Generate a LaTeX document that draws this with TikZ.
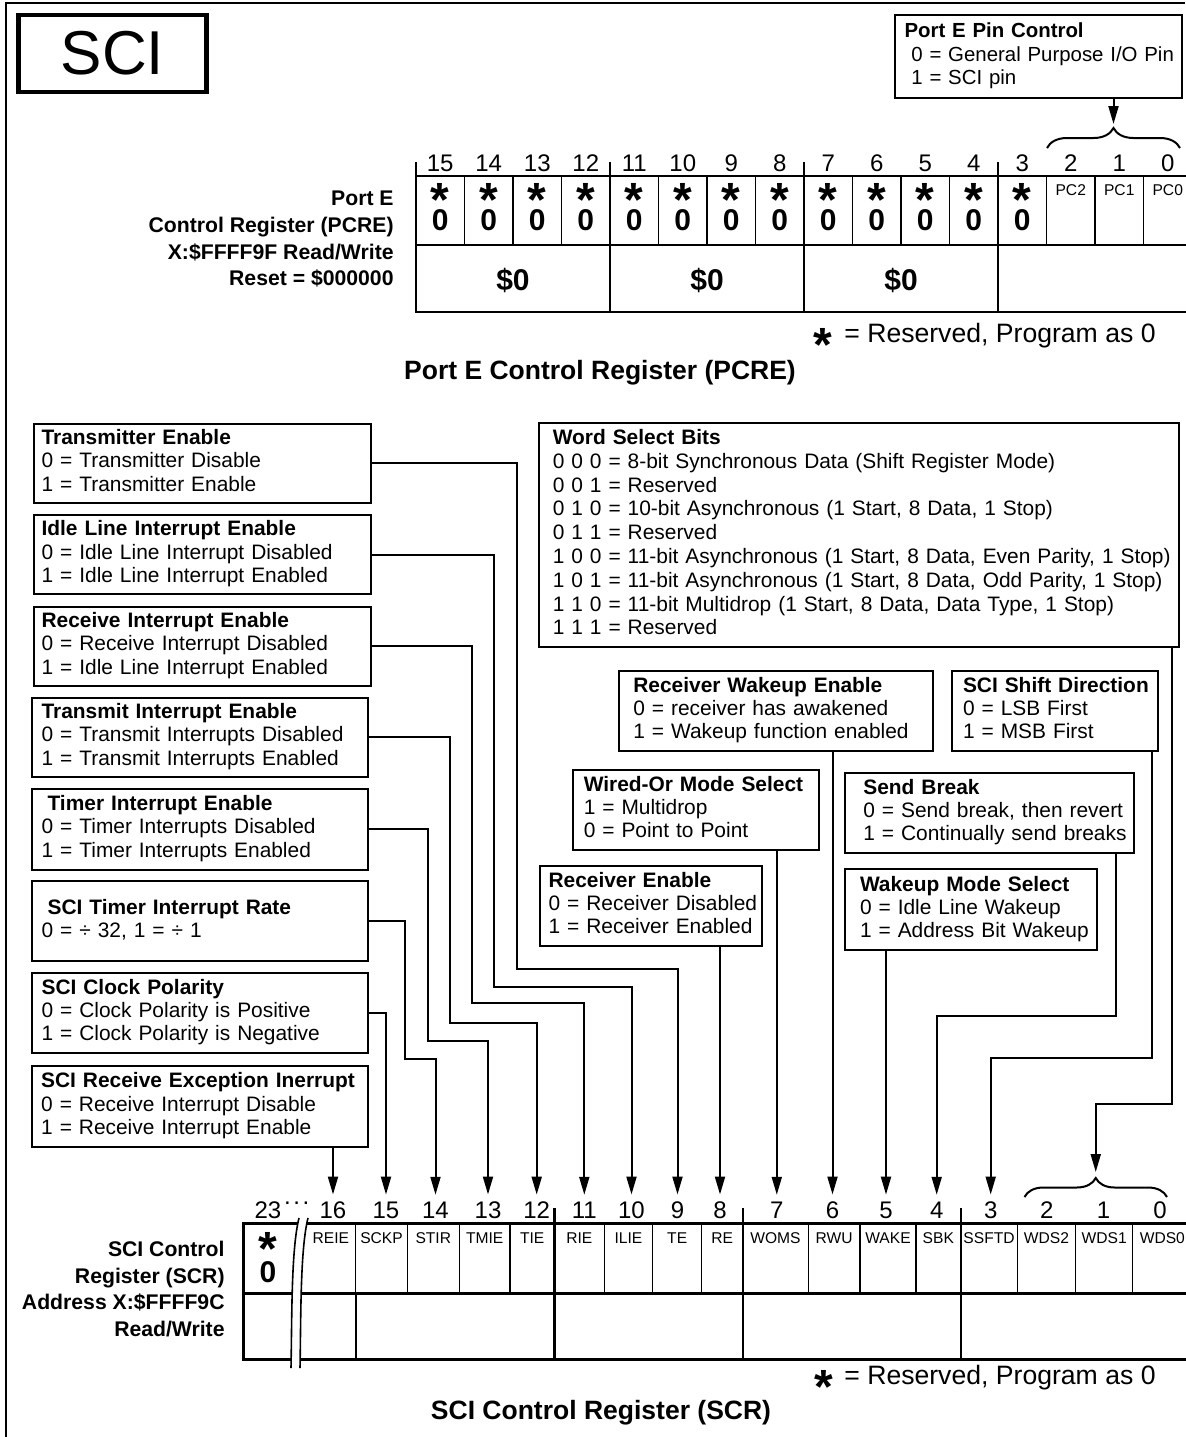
\documentclass[tikz,border=0pt]{standalone}
\usepackage{fontspec}
\setmainfont{Liberation Sans}
\usetikzlibrary{arrows.meta,decorations.pathreplacing}

\newcommand{\bodyfont}{\fontsize{10.45}{11.6}\selectfont}
\newcommand{\labfont}{\fontsize{10.6}{13.4}\selectfont\bfseries}
\newcommand{\numfont}{\fontsize{12}{14}\selectfont}
\newcommand{\zerofont}{\fontsize{15}{17}\selectfont\bfseries}
\newcommand{\starfont}{\fontsize{24}{24}\selectfont\bfseries}
\newcommand{\cellfont}{\fontsize{7.8}{9}\selectfont}
\newcommand{\notefont}{\fontsize{13.3}{15}\selectfont}
\newcommand{\titlefont}{\fontsize{13.25}{15}\selectfont\bfseries}
\newcommand{\desc}[2]{\begin{tabular}{@{\hspace{#1}}l@{}}#2\end{tabular}}

\tikzset{
  descbox/.style={draw, line width=1pt, anchor=north west, inner sep=0pt, align=left, font=\bodyfont},
  conn/.style={line width=1pt, -{Triangle[length=9pt,width=5pt]}},
  bitnum/.style={font=\numfont, inner sep=0pt, outer ysep=3.5pt},
  celllab/.style={font=\cellfont, inner sep=0pt},
  zero/.style={font=\zerofont, inner sep=0pt},
  starmark/.style={font=\starfont, inner sep=0pt, anchor=north},
  regline/.style={line width=1.2pt},
  cellline/.style={line width=0.7pt},
  curly/.style={decorate, decoration={brace, amplitude=#1}, line width=1pt},
}

\begin{document}
\begin{tikzpicture}[x=0.5pt, y=-0.5pt]
\useasboundingbox (0,0) rectangle (1185,1437);
\fill[white] (0,0) rectangle (1185,1437);
\draw[line width=1pt] (1185,2.7) -- (5.7,2.7) -- (5.7,1437);

\node[draw, line width=2.2pt, minimum width=94pt, minimum height=38.5pt, inner sep=0pt,
      font=\fontsize{31}{31}\selectfont] (sci) at (112.5,53.5) {SCI};

% Port E control register
\node[descbox, text width=143.7pt, minimum height=41.5pt, font=\fontsize{10.2}{11.8}\selectfont] (pin) at (893.6,14)
  {\desc{5pt}{\textbf{Port E Pin Control}\\\ 0 = General Purpose I/O Pin\\\ 1 = SCI pin}};
\coordinate (pctip) at (1113.5,124);
\draw[conn] (pin.south -| pctip) -- (pctip);
\draw[curly=10pt] (1047,148) -- (1180,148);

\foreach \i in {0,...,15}
  \draw[cellline] ({416+\i*48.5},176) rectangle ({416+(\i+1)*48.5},245);
\draw[regline] (416,176) rectangle (1192,312);
\draw[regline] (416,245) -- (1192,245);
\draw[regline] (416,162) -- (416,176);
\foreach \x in {610,804,998}
  \draw[regline] (\x,162) -- (\x,312);

\foreach \b in {15,...,0}
  \node[bitnum] (p\b) at ({416+(15.5-\b)*48.5},163) {\b};
\foreach \b in {15,...,3} {
  \node[starmark] (ps\b) at ({416+(15.5-\b)*48.5},183.3) {*};
  \node[zero] (pz\b) at ({416+(15.5-\b)*48.5},220) {0};
}
\foreach \b in {2,1,0}
  \node[celllab] (pc\b) at ({416+(15.5-\b)*48.5},190) {PC\b};
\foreach \g/\x in {a/513,b/707,c/901}
  \node[zero] (pd\g) at (\x,280) {\$0};

\node[font=\labfont, align=right, anchor=north east, inner sep=0pt] (pcrelab) at (394,190.5)
  {Port E\\Control Register (PCRE)\\X:\$FFFF9F Read/Write\\Reset = \$000000};
\node[starmark] (pcstar) at (823,328.3) {*};
\node[font=\notefont, anchor=base west, inner sep=0pt] (pcnote) at (844,342) {= Reserved, Program as 0};
\node[font=\titlefont, anchor=base] (pcretitle) at (600,379.5) {Port E Control Register (PCRE)};

% bit descriptions, left column
\node[descbox, text width=168.05pt, minimum height=39.5pt] (te) at (33.4,422.7)
  {\desc{3.6pt}{\textbf{Transmitter Enable}\\0 = Transmitter Disable\\1 = Transmitter Enable}};
\node[descbox, text width=168.05pt, minimum height=39.5pt] (ilie) at (33.4,514)
  {\desc{3.6pt}{\textbf{Idle Line Interrupt Enable}\\0 = Idle Line Interrupt Disabled\\1 = Idle Line Interrupt Enabled}};
\node[descbox, text width=168.05pt, minimum height=39.6pt] (rie) at (33.4,605.7)
  {\desc{3.6pt}{\textbf{Receive Interrupt Enable}\\0 = Receive Interrupt Disabled\\1 = Idle Line Interrupt Enabled}};
\node[descbox, text width=167.85pt, minimum height=39.6pt] (tie) at (31,696.7)
  {\desc{4.8pt}{\textbf{Transmit Interrupt Enable}\\0 = Transmit Interrupts Disabled\\1 = Transmit Interrupts Enabled}};
\node[descbox, text width=167.85pt, minimum height=40.3pt] (tmie) at (31,788)
  {\desc{4.8pt}{\hspace{3pt}\textbf{Timer Interrupt Enable}\\0 = Timer Interrupts Disabled\\1 = Timer Interrupts Enabled}};
\node[descbox, text width=167.85pt, minimum height=40pt] (stir) at (31,880)
  {\desc{4.8pt}{\hspace{3pt}\textbf{SCI Timer Interrupt Rate}\\0 = ÷ 32, 1 = ÷ 1\\ }};
\node[descbox, text width=167.85pt, minimum height=40pt] (sckp) at (31,971.7)
  {\desc{4.8pt}{\textbf{SCI Clock Polarity}\\0 = Clock Polarity is Positive\\1 = Clock Polarity is Negative}};
\node[descbox, text width=168pt, minimum height=40.5pt] (reie) at (30.6,1065)
  {\desc{4.8pt}{\textbf{SCI Receive Exception Inerrupt}\\0 = Receive Interrupt Disable\\1 = Receive Interrupt Enable}};

% bit descriptions, right side
\node[descbox, text width=320.1pt, minimum height=112.15pt, font=\fontsize{10.45}{11.9}\selectfont] (wsb) at (537.8,421.7)
  {\desc{7pt}{\textbf{Word Select Bits}\\
   0 0 0 = 8-bit Synchronous Data (Shift Register Mode)\\
   0 0 1 = Reserved\\
   0 1 0 = 10-bit Asynchronous (1 Start, 8 Data, 1 Stop)\\
   0 1 1 = Reserved\\
   1 0 0 = 11-bit Asynchronous (1 Start, 8 Data, Even Parity, 1 Stop)\\
   1 0 1 = 11-bit Asynchronous (1 Start, 8 Data, Odd Parity, 1 Stop)\\
   1 1 0 = 11-bit Multidrop (1 Start, 8 Data, Data Type, 1 Stop)\\
   1 1 1 = Reserved}};
\node[descbox, text width=156.9pt, minimum height=40pt] (rwe) at (618.4,670)
  {\desc{7pt}{\textbf{Receiver Wakeup Enable}\\0 = receiver has awakened\\1 = Wakeup function enabled}};
\node[descbox, text width=102.85pt, minimum height=40pt] (ssd) at (951.3,670)
  {\desc{5.35pt}{\textbf{SCI Shift Direction}\\0 = LSB First\\1 = MSB First}};
\node[descbox, text width=123pt, minimum height=40pt] (woms) at (572,769)
  {\desc{5.4pt}{\textbf{Wired-Or Mode Select}\\1 = Multidrop\\0 = Point to Point}};
\node[descbox, text width=144.2pt, minimum height=40pt] (sb) at (844.4,771.7)
  {\desc{9pt}{\textbf{Send Break}\\0 = Send break, then revert\\1 = Continually send breaks}};
\node[descbox, text width=111pt, minimum height=40pt] (re) at (539,865)
  {\desc{4.3pt}{\textbf{Receiver Enable}\\0 = Receiver Disabled\\1 = Receiver Enabled}};
\node[descbox, text width=125.55pt, minimum height=40.35pt] (wms) at (844.4,868.3)
  {\desc{7.3pt}{\textbf{Wakeup Mode Select}\\0 = Idle Line Wakeup\\1 = Address Bit Wakeup}};

% SCI control register
\draw[regline] (243.3,1223.3) rectangle (1192,1359.5);
\draw[regline] (243.3,1293.3) -- (1192,1293.3);
\draw[regline] (355.7,1293.3) -- (355.7,1359.5);
\foreach \x in {554.3,742.7,960.7}
  \draw[regline] (\x,1208) -- (\x,1359.5);
\foreach \l/\r/\lab in {306/355.7/REIE, 355.7/407.3/SCKP, 407.3/459.3/STIR, 459.3/510/TMIE,
    510/554.3/TIE, 554.3/604.3/RIE, 604.3/652.7/ILIE, 652.7/701.7/TE, 701.7/742.7/RE,
    742.7/808.3/WOMS, 808.3/860/RWU, 860/916/WAKE, 916/960.7/SBK, 960.7/1017.3/SSFTD,
    1017.3/1075.7/WDS2, 1075.7/1132.7/WDS1, 1132.7/1192/WDS0} {
  \draw[cellline] (\r,1223.3) -- (\r,1293.3);
  \node[celllab] (c\lab) at ({(\l+\r)/2},1238.3) {\lab};
}
% break in the register
\fill[white] (299,1218) .. controls (291,1250) and (292,1320) .. (291,1368)
  -- (300,1368) .. controls (301,1320) and (300,1250) .. (308,1218) -- cycle;
\draw[line width=0.8pt] (299,1218) .. controls (291,1250) and (292,1320) .. (291,1368);
\draw[line width=0.8pt] (308,1218) .. controls (300,1250) and (301,1320) .. (300,1368);

\node[starmark] (ss23) at (268,1231.7) {*};
\node[zero] (sz23) at (268,1271.7) {0};

\node[bitnum] (n23) at (268,1210) {23};
\node[font=\numfont, inner sep=0pt, anchor=base] (ndots) at (296.7,1204.3) {.\kern1.3pt.\kern1.3pt.};
\node[bitnum] (n16) at (333,1210) {16};
\foreach \b/\x in {15/386, 14/435.5, 13/488, 12/536.7, 11/584.3, 10/631.5, 9/677.5, 8/720,
    7/776.8, 6/832.5, 5/886, 4/936.7, 3/990.7, 2/1046.7, 1/1103.5, 0/1160}
  \node[bitnum] (n\b) at (\x,1210) {\b};

\node[font=\labfont, align=right, anchor=north east, inner sep=0pt] (scrlab) at (225,1240.5)
  {SCI Control\\Register (SCR)\\Address X:\$FFFF9C\\Read/Write};
\node[starmark] (scstar) at (823.4,1370) {*};
\node[font=\notefont, anchor=base west, inner sep=0pt] (scnote) at (844,1384) {= Reserved, Program as 0};
\node[font=\titlefont, anchor=base] (scrtitle) at (601,1419.5) {SCI Control Register (SCR)};

\coordinate (wdtip) at (1095.75,1172);
\draw[curly=9.5pt] (1024.5,1197) -- (1167,1197);

% connectors
\draw[conn] (te.east) -| (517,969) -| (n9.north);
\draw[conn] (ilie.east) -| (494,987.3) -| (n10.north);
\draw[conn] (rie.east) -| (471.8,1003) -| (n11.north);
\draw[conn] (tie.east) -| (450,1022.7) -| (n12.north);
\draw[conn] (tmie.east) -| (428,1040.7) -| (n13.north);
\draw[conn] (stir.east) -| (404.6,1059) -| (n14.north);
\draw[conn] (sckp.east) -| (n15.north);
\draw[conn] (n16.north |- reie.south) -- (n16.north);
\draw[conn] (n8.north |- re.south) -- (n8.north);
\draw[conn] (n7.north |- woms.south) -- (n7.north);
\draw[conn] (n6.north |- rwe.south) -- (n6.north);
\draw[conn] (n5.north |- wms.south) -- (n5.north);
\draw[conn] ([xshift=-9.6pt]sb.south east) -- ++(0,162.3) -| (n4.north);
\draw[conn] ([xshift=-3.6pt]ssd.south east) -- ++(0,306) -| (n3.north);
\draw[conn] ([xshift=-4pt]wsb.south east) -- ++(0,455.7) -| (wdtip);
\end{tikzpicture}
\end{document}
